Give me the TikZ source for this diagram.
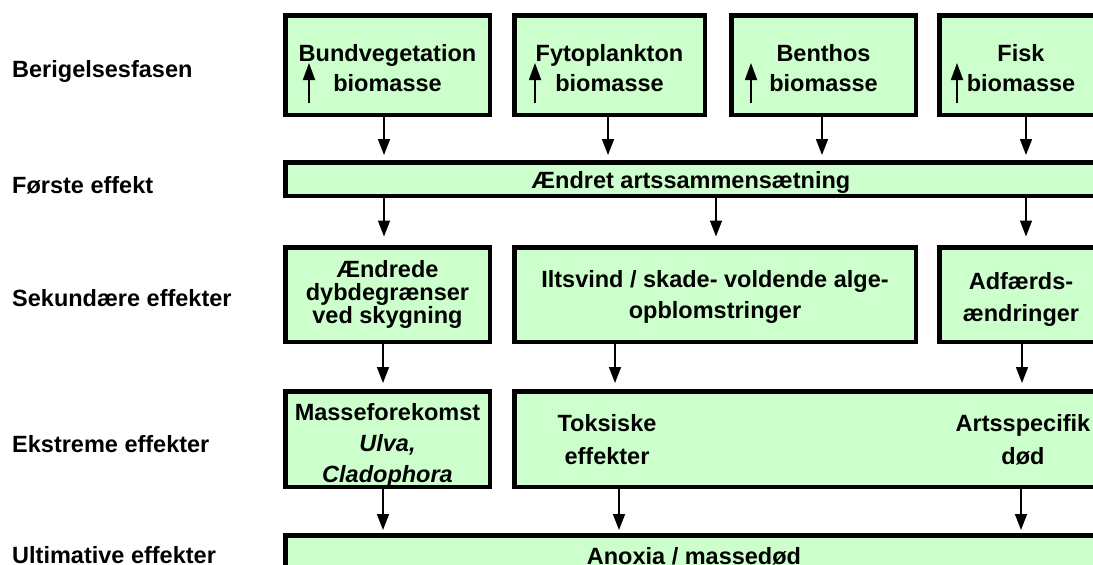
\documentclass[tikz,border=0pt]{standalone}
\usepackage{fontspec}
\setmainfont{Liberation Sans}
\usetikzlibrary{arrows.meta}
\definecolor{boxfill}{HTML}{CCFFCC}
\begin{document}
\begin{tikzpicture}[x=1pt,y=-1pt,
  box/.style={draw=black,line width=4.5pt,fill=boxfill,inner sep=0pt},
  txt/.style={align=center,inner sep=0pt,font=\fontsize{23.5}{30}\selectfont\bfseries},
  lbl/.style={anchor=base west,inner sep=0pt,font=\fontsize{23.5}{28}\selectfont\bfseries},
  conn/.style={line width=1.6pt,-{Triangle[length=16pt,width=12pt]}},
  uparr/.style={line width=1.8pt,-{Triangle[length=17pt,width=12pt]}}]
\useasboundingbox (0,0) rectangle (1093,565);
\clip (0,0) rectangle (1093,565);

% left labels
\node[lbl] (L1) at (12,77) {Berigelsesfasen};
\node[lbl] (L2) at (12,193) {Første effekt};
\node[lbl] (L3) at (12,306) {Sekundære effekter};
\node[lbl] (L4) at (12,452) {Ekstreme effekter};
\node[lbl] (L5) at (12,563) {Ultimative effekter};

% row 1
\node[box,minimum width=204.5pt,minimum height=99.5pt] (B1) at (387.5,65) {};
\node[box,minimum width=190.5pt,minimum height=99.5pt] (B2) at (609.5,65) {};
\node[box,minimum width=184.5pt,minimum height=99.5pt] (B3) at (823.5,65) {};
\node[box,minimum width=163.5pt,minimum height=99.5pt] (B4) at (1021,65) {};
\node[txt] (tB1) at (387.5,68.5) {Bundvegetation\\biomasse};
\node[txt] (tB2) at (609.5,68.5) {Fytoplankton\\biomasse};
\node[txt] (tB3) at (823.5,68.5) {Benthos\\biomasse};
\node[txt] (tB4) at (1021,68.5) {Fisk\\biomasse};
\draw[uparr] (309,103) -- (309,63);
\draw[uparr] (535,103) -- (535,63);
\draw[uparr] (751,103) -- (751,63);
\draw[uparr] (957,103) -- (957,63);

% row 2
\node[box,minimum width=813.5pt,minimum height=33.5pt] (E1) at (692,179) {};
\node[txt,anchor=base] (tE1) at (691,188) {Ændret artssammensætning};

% row 3
\node[box,minimum width=204.5pt,minimum height=94.5pt] (C1) at (387.5,294.5) {};
\node[box,minimum width=401.5pt,minimum height=94.5pt] (C2) at (715,294.5) {};
\node[box,minimum width=163.5pt,minimum height=94.5pt] (C3) at (1021,294.5) {};
\node[txt,font=\fontsize{23.5}{23}\selectfont\bfseries] (tC1) at (387.5,294) {Ændrede\\dybdegrænser\\ved skygning};
\node[txt,font=\fontsize{23.5}{31}\selectfont\bfseries] (tC2) at (715,296.5) {Iltsvind / skade- voldende alge-\\opblomstringer};
\node[txt,font=\fontsize{23.5}{32}\selectfont\bfseries] (tC3) at (1021,299) {Adfærds-\\ændringer};

% row 4
\node[box,minimum width=204.5pt,minimum height=95.5pt] (D1) at (387.5,439) {};
\node[box,minimum width=593.5pt,minimum height=95.5pt] (D2) at (811,439) {};
\node[txt,font=\fontsize{23.5}{31}\selectfont\bfseries] (tD1) at (387.5,445) {Masseforekomst\\\itshape Ulva,\\\itshape Cladophora};
\node[txt,font=\fontsize{23.5}{33}\selectfont\bfseries] (tD2a) at (607,440) {Toksiske\\effekter};
\node[txt,font=\fontsize{23.5}{33}\selectfont\bfseries] (tD2b) at (1023,440) {Artsspecifik\\død};

% row 5
\node[box,minimum width=813.5pt,minimum height=37.5pt] (E2) at (692,554) {};
\node[txt,anchor=base] (tE2) at (694,564) {Anoxia / massedød};

% connector x positions
\coordinate (x384) at (384,0);
\coordinate (x608) at (608,0);
\coordinate (x822) at (822,0);
\coordinate (x1026) at (1026,0);
\coordinate (x716) at (716,0);
\coordinate (x383) at (383,0);
\coordinate (x615) at (615,0);
\coordinate (x1022) at (1022,0);
\coordinate (x619) at (619,0);
\coordinate (x1021) at (1021,0);

\draw[conn,shorten >=5pt] (B1.south -| x384) -- (E1.north -| x384);
\draw[conn,shorten >=5pt] (B2.south -| x608) -- (E1.north -| x608);
\draw[conn,shorten >=5pt] (B3.south -| x822) -- (E1.north -| x822);
\draw[conn,shorten >=5pt] (B4.south -| x1026) -- (E1.north -| x1026);

\draw[conn,shorten >=8.5pt] (E1.south -| x384) -- (C1.north -| x384);
\draw[conn,shorten >=8.5pt] (E1.south -| x716) -- (C2.north -| x716);
\draw[conn,shorten >=8.5pt] (E1.south -| x1026) -- (C3.north -| x1026);

\draw[conn,shorten >=6pt] (C1.south -| x383) -- (D1.north -| x383);
\draw[conn,shorten >=6pt] (C2.south -| x615) -- (D2.north -| x615);
\draw[conn,shorten >=6pt] (C3.south -| x1022) -- (D2.north -| x1022);

\draw[conn,shorten >=3pt] (D1.south -| x383) -- (E2.north -| x383);
\draw[conn,shorten >=3pt] (D2.south -| x619) -- (E2.north -| x619);
\draw[conn,shorten >=3pt] (D2.south -| x1021) -- (E2.north -| x1021);
\end{tikzpicture}
\end{document}
